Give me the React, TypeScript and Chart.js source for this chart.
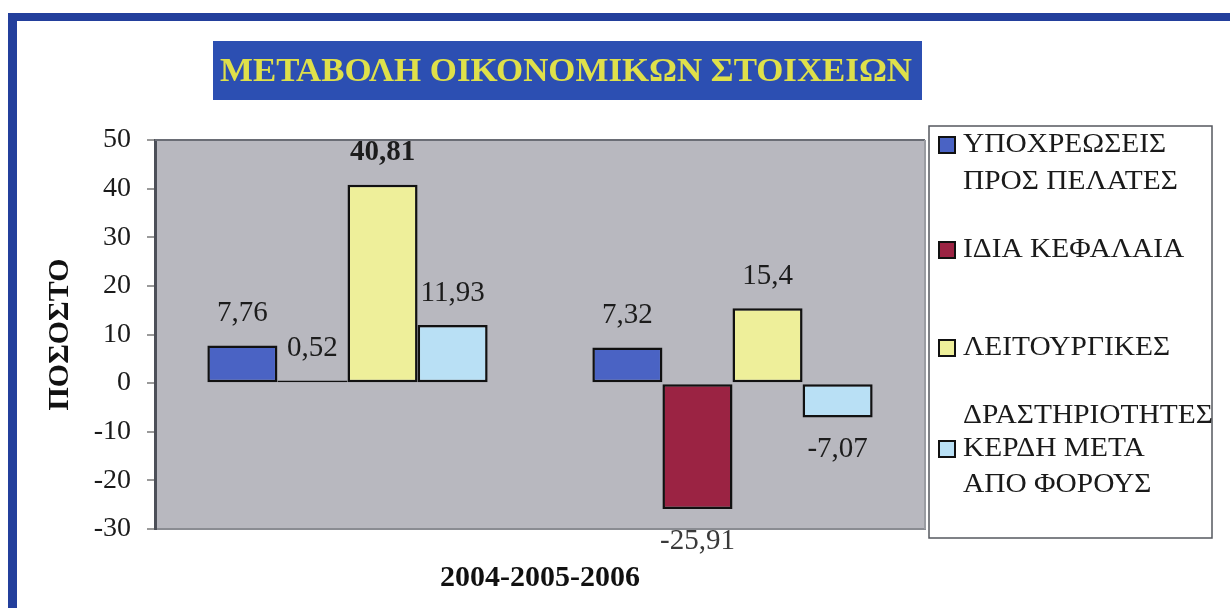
import React, { useEffect, useRef } from "react";
import { Chart, registerables } from "chart.js";

Chart.register(...registerables);

const chartTitle = "ΜΕΤΑΒΟΛΗ ΟΙΚΟΝΟΜΙΚΩΝ ΣΤΟΙΧΕΙΩΝ";
const categories = ["2004-2005", "2005-2006"];
const xAxisTitle = "2004-2005-2006";
const yAxisTitle = "ΠΟΣΟΣΤΟ";
const yTickValues = [50, 40, 30, 20, 10, 0, -10, -20, -30];

const seriesNames = [
  "ΥΠΟΧΡΕΩΣΕΙΣ ΠΡΟΣ ΠΕΛΑΤΕΣ",
  "ΙΔΙΑ ΚΕΦΑΛΑΙΑ",
  "ΛΕΙΤΟΥΡΓΙΚΕΣ ΔΡΑΣΤΗΡΙΟΤΗΤΕΣ",
  "ΚΕΡΔΗ ΜΕΤΑ ΑΠΟ ΦΟΡΟΥΣ",
];
const legendLines = [
  ["ΥΠΟΧΡΕΩΣΕΙΣ", "ΠΡΟΣ ΠΕΛΑΤΕΣ"],
  ["ΙΔΙΑ ΚΕΦΑΛΑΙΑ"],
  ["ΛΕΙΤΟΥΡΓΙΚΕΣ", "ΔΡΑΣΤΗΡΙΟΤΗΤΕΣ"],
  ["ΚΕΡΔΗ ΜΕΤΑ", "ΑΠΟ ΦΟΡΟΥΣ"],
];

const obligationsToClients = [7.76, 7.32];
const equity = [0.52, -25.91];
const operatingActivities = [40.81, 15.4];
const profitAfterTax = [11.93, -7.07];

const seriesValues = [obligationsToClients, equity, operatingActivities, profitAfterTax];
const seriesColors = ["#4a63c4", "#9b2343", "#eeef9a", "#b9e0f5"];

const SERIF = '"Liberation Serif", "Times New Roman", serif';

// layout (style only)
const LEGEND_LINE_Y = [
  [145, 182],
  [250],
  [348, 416],
  [449, 485],
];

const fmt = (v: number) => String(v).replace(".", ",");

const decorPlugin = {
  id: "decor",
  beforeDraw(chart: any) {
    const { ctx, chartArea } = chart;
    ctx.save();
    ctx.fillStyle = "#ffffff";
    ctx.fillRect(0, 0, chart.width, chart.height);
    // blue frame
    ctx.fillStyle = "#233f9c";
    ctx.fillRect(8, 13, chart.width - 8, 8);
    ctx.fillRect(8, 13, 9, chart.height - 13);
    // title box
    ctx.fillStyle = "#2c4fb2";
    ctx.fillRect(213, 41, 709, 59);
    ctx.fillStyle = "#dfe04a";
    ctx.font = `bold 34px ${SERIF}`;
    ctx.textBaseline = "middle";
    ctx.textAlign = "left";
    const w = ctx.measureText(chartTitle).width;
    const target = 692;
    ctx.translate(220, 72);
    ctx.scale(target / w, 1);
    ctx.fillText(chartTitle, 0, 0);
    ctx.restore();
    // plot background
    ctx.save();
    ctx.fillStyle = "#b8b8bf";
    ctx.fillRect(chartArea.left, chartArea.top, chartArea.right - chartArea.left, chartArea.bottom - chartArea.top);
    ctx.restore();
  },
  afterDatasetsDraw(chart: any) {
    const { ctx } = chart;
    ctx.save();
    ctx.textAlign = "center";
    ctx.textBaseline = "middle";
    let maxVal = -Infinity;
    chart.data.datasets.forEach((ds: any) => ds.data.forEach((v: number) => (maxVal = Math.max(maxVal, v))));
    chart.data.datasets.forEach((ds: any, di: number) => {
      const meta = chart.getDatasetMeta(di);
      meta.data.forEach((el: any, i: number) => {
        const v = ds.data[i];
        const y = v >= 0 ? el.y - 32 : el.y + 32;
        ctx.font = v === maxVal ? `bold 29px ${SERIF}` : `29px ${SERIF}`;
        ctx.fillStyle = v < -20 ? "#3a3a3a" : "#1c1c1c";
        ctx.fillText(fmt(v), el.x, y);
      });
    });
    ctx.restore();
  },
  afterDraw(chart: any) {
    const { ctx, chartArea } = chart;
    ctx.save();
    // plot frame top / right
    ctx.strokeStyle = "#6a6d75";
    ctx.lineWidth = 2;
    ctx.beginPath();
    ctx.moveTo(chartArea.left, chartArea.top);
    ctx.lineTo(chartArea.right, chartArea.top);
    ctx.stroke();
    ctx.strokeStyle = "#9a9ca2";
    ctx.beginPath();
    ctx.moveTo(chartArea.right, chartArea.top);
    ctx.lineTo(chartArea.right, chartArea.bottom);
    ctx.stroke();
    // legend
    ctx.fillStyle = "#ffffff";
    ctx.fillRect(929, 126, 283, 412);
    ctx.strokeStyle = "#55585f";
    ctx.lineWidth = 1.5;
    ctx.strokeRect(929, 126, 283, 412);
    ctx.font = `26.5px ${SERIF}`;
    ctx.textAlign = "left";
    ctx.textBaseline = "middle";
    chart.data.datasets.forEach((ds: any, di: number) => {
      const lines = legendLines[di];
      const ys = LEGEND_LINE_Y[di];
      ctx.fillStyle = ds.backgroundColor;
      ctx.fillRect(939, ys[0] - 8, 16, 16);
      ctx.strokeStyle = "#111";
      ctx.lineWidth = 2;
      ctx.strokeRect(939, ys[0] - 8, 16, 16);
      ctx.fillStyle = "#1a1a1a";
      lines.forEach((ln: string, li: number) => {
        ctx.save();
        ctx.translate(963, ys[li]);
        ctx.scale(1.11, 1);
        ctx.fillText(ln, 0, 0);
        ctx.restore();
      });
    });
    ctx.restore();
  },
};

export default function App() {
  const ref = useRef<HTMLCanvasElement | null>(null);
  useEffect(() => {
    if (!ref.current) return;
    const chart = new Chart(ref.current, {
      type: "bar",
      data: {
        labels: categories,
        datasets: seriesNames.map((name, i) => ({
          label: name,
          data: seriesValues[i],
          backgroundColor: seriesColors[i],
          borderColor: "#111111",
          borderWidth: 2.5,
          borderSkipped: false,
          categoryPercentage: 0.728,
          barPercentage: 1.0,
        })),
      },
      options: {
        responsive: false,
        animation: false,
        layout: { padding: { top: 140, right: 305, bottom: 0, left: 0 } },
        plugins: {
          legend: { display: false },
          title: { display: false },
          tooltip: { enabled: false },
        },
        scales: {
          x: {
            afterFit: (s: any) => {
              s.height = 79;
            },
            ticks: { display: false },
            grid: { display: false, drawTicks: false },
            border: { display: true, color: "#8a8c92", width: 2 },
            title: {
              display: true,
              text: xAxisTitle,
              font: { family: SERIF, size: 30, weight: "bold" },
              color: "#111",
              padding: { top: 0, bottom: 12 },
            },
          },
          y: {
            min: Math.min(...yTickValues),
            max: Math.max(...yTickValues),
            afterFit: (s: any) => {
              s.width = 155;
            },
            ticks: {
              stepSize: 10,
              padding: 16,
              color: "#1a1a1a",
              font: { family: SERIF, size: 28 },
            },
            grid: {
              drawOnChartArea: false,
              drawTicks: true,
              tickLength: 8,
              color: "#9a9a9a",
              lineWidth: 2,
            },
            border: { display: true, color: "#4c4f58", width: 3 },
            title: {
              display: true,
              text: yAxisTitle,
              font: { family: SERIF, size: 30, weight: "bold" },
              color: "#111",
              padding: { top: 42, bottom: 0 },
            },
          },
        },
      },
      plugins: [decorPlugin],
    });
    return () => chart.destroy();
  }, []);
  return (
    <div style={{ position: "fixed", left: 0, top: 0, width: 1230, height: 608, background: "#fff" }}>
      <canvas ref={ref} width={1230} height={608} style={{ display: "block", width: 1230, height: 608 }} />
    </div>
  );
}
